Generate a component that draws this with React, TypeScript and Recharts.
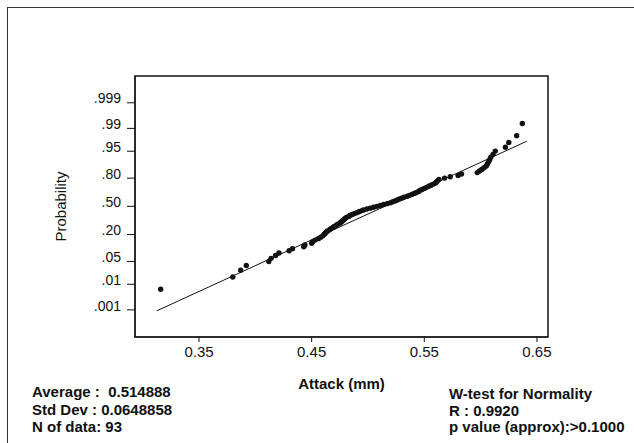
import React from 'react';
import { ScatterChart, Scatter, XAxis, YAxis, ReferenceArea, Label } from 'recharts';

const attack = [
  0.316, 0.380, 0.387, 0.392, 0.412, 0.414, 0.418, 0.421, 0.430, 0.433,
  0.443, 0.444, 0.450, 0.451, 0.453, 0.456, 0.458, 0.460, 0.461, 0.462,
  0.463, 0.464, 0.466, 0.467, 0.469, 0.470, 0.472, 0.473, 0.475, 0.476,
  0.477, 0.478, 0.479, 0.480, 0.481, 0.483, 0.484, 0.486, 0.488, 0.490,
  0.492, 0.494, 0.496, 0.499, 0.502, 0.505, 0.508, 0.511, 0.514, 0.517,
  0.520, 0.522, 0.524, 0.526, 0.528, 0.530, 0.532, 0.535, 0.537, 0.539,
  0.541, 0.543, 0.545, 0.546, 0.548, 0.550, 0.552, 0.554, 0.556, 0.558,
  0.560, 0.561, 0.562, 0.563, 0.568, 0.573, 0.580, 0.583, 0.597, 0.599,
  0.601, 0.603, 0.605, 0.606, 0.607, 0.608, 0.609, 0.611, 0.613, 0.622,
  0.625, 0.632, 0.637,
];

const probTicks = [0.001, 0.01, 0.05, 0.2, 0.5, 0.8, 0.95, 0.99, 0.999];
const probLabels = ['.001', '.01', '.05', '.20', '.50', '.80', '.95', '.99', '.999'];
const xTicks = [0.35, 0.45, 0.55, 0.65];
const fitEnds = [0.3125, 0.641];

const mean = 0.514888;
const stdDev = 0.0648858;
const statsLeft = ['Average :  0.514888', 'Std Dev : 0.0648858', 'N of data: 93'];
const statsRight = ['W-test for Normality', 'R : 0.9920', 'p value (approx):>0.1000'];

// inverse standard normal CDF (Acklam) - needed for the probability scale
const probit = (p: number) => {
  const a = [-39.69683028665376, 220.9460984245205, -275.9285104469687, 138.357751867269, -30.66479806614716, 2.506628277459239];
  const b = [-54.47609879822406, 161.5858368580409, -155.6989798598866, 66.80131188771972, -13.28068155288572];
  const c = [-0.007784894002430293, -0.3223964580411365, -2.400758277161838, -2.549732539343734, 4.374664141464968, 2.938163982698783];
  const d = [0.007784695709041462, 0.3224671290700398, 2.445134137142996, 3.754408661907416];
  const pl = 0.02425;
  if (p < pl) {
    const q = Math.sqrt(-2 * Math.log(p));
    return (((((c[0] * q + c[1]) * q + c[2]) * q + c[3]) * q + c[4]) * q + c[5]) / ((((d[0] * q + d[1]) * q + d[2]) * q + d[3]) * q + 1);
  }
  if (p > 1 - pl) {
    const q = Math.sqrt(-2 * Math.log(1 - p));
    return -(((((c[0] * q + c[1]) * q + c[2]) * q + c[3]) * q + c[4]) * q + c[5]) / ((((d[0] * q + d[1]) * q + d[2]) * q + d[3]) * q + 1);
  }
  const q = p - 0.5;
  const r = q * q;
  return (((((a[0] * r + a[1]) * r + a[2]) * r + a[3]) * r + a[4]) * r + a[5]) * q / (((((b[0] * r + b[1]) * r + b[2]) * r + b[3]) * r + b[4]) * r + 1);
};

const n = attack.length;
// Blom plotting positions
const points = attack.map((x, i) => ({ x, z: probit((i + 1 - 0.375) / (n + 0.25)) }));
const fitLine = fitEnds.map((x) => ({ x, z: (x - mean) / stdDev }));
const zTicks = probTicks.map(probit);

const zLabel = (v: number) => {
  let best = 0;
  zTicks.forEach((t, i) => {
    if (Math.abs(t - v) < Math.abs(zTicks[best] - v)) best = i;
  });
  return probLabels[best];
};

const FONT = '"Liberation Sans", Arial, sans-serif';
const INK = '#111';

const YTick = ({ x, y, payload }: any) => (
  <text x={x} y={y - 3} textAnchor="end" dominantBaseline="middle" fontFamily={FONT} fontSize={14} fill={INK}>
    {zLabel(payload.value)}
  </text>
);

const XTick = ({ x, y, payload }: any) => (
  <text x={x} y={y + 9} textAnchor="middle" dominantBaseline="middle" fontFamily={FONT} fontSize={15} fill={INK}>
    {payload.value.toFixed(2)}
  </text>
);

const Dot = ({ cx, cy }: any) => <circle cx={cx} cy={cy} r={2.7} fill={INK} />;

const App: React.FC = () => {
  return (
    <div style={{ position: 'absolute', left: 0, top: 0, width: 634, height: 443, background: '#fff', overflow: 'hidden' }}>
      <div style={{ position: 'absolute', left: 7, top: 7, width: 700, height: 500, borderTop: '1.5px solid #333', borderLeft: '1.5px solid #333' }} />
      <ScatterChart width={634} height={443} margin={{ top: 76, right: 86, bottom: 76, left: 55 }}>
        <XAxis
          type="number"
          dataKey="x"
          domain={[0.2932, 0.6598]}
          ticks={xTicks}
          interval={0}
          tick={<XTick />}
          tickSize={5}
          height={30}
          stroke={INK}
          allowDataOverflow
        >
          <Label value="Attack (mm)" position="insideBottom" offset={-22} fontFamily={FONT} fontWeight="bold" fontSize={15} fill={INK} />
        </XAxis>
        <YAxis
          type="number"
          dataKey="z"
          domain={[-3.9, 3.89]}
          ticks={zTicks}
          interval={0}
          tick={<YTick />}
          tickSize={8}
          tickMargin={6}
          width={80}
          stroke={INK}
          allowDataOverflow
        >
          <Label value="Probability" angle={-90} position="insideLeft" offset={6} fontFamily={FONT} fontSize={15} fill={INK} style={{ textAnchor: 'middle' }} />
        </YAxis>
        <ReferenceArea x1={0.2932} x2={0.6598} y1={-3.9} y2={3.89} fill="none" stroke={INK} strokeWidth={1.5} ifOverflow="visible" />
        <Scatter data={fitLine} line={{ stroke: INK, strokeWidth: 1 }} shape={() => null} isAnimationActive={false} />
        <Scatter data={points} shape={<Dot />} isAnimationActive={false} />
      </ScatterChart>
      <div style={{ position: 'absolute', left: 32, top: 383, fontFamily: FONT, fontWeight: 'bold', fontSize: 15, lineHeight: '17.5px', color: INK, whiteSpace: 'pre' }}>
        {statsLeft.map((s) => <div key={s}>{s}</div>)}
      </div>
      <div style={{ position: 'absolute', left: 449, top: 386, fontFamily: FONT, fontWeight: 'bold', fontSize: 15, lineHeight: '16.5px', color: INK, whiteSpace: 'pre' }}>
        {statsRight.map((s) => <div key={s}>{s}</div>)}
      </div>
    </div>
  );
};

export default App;
